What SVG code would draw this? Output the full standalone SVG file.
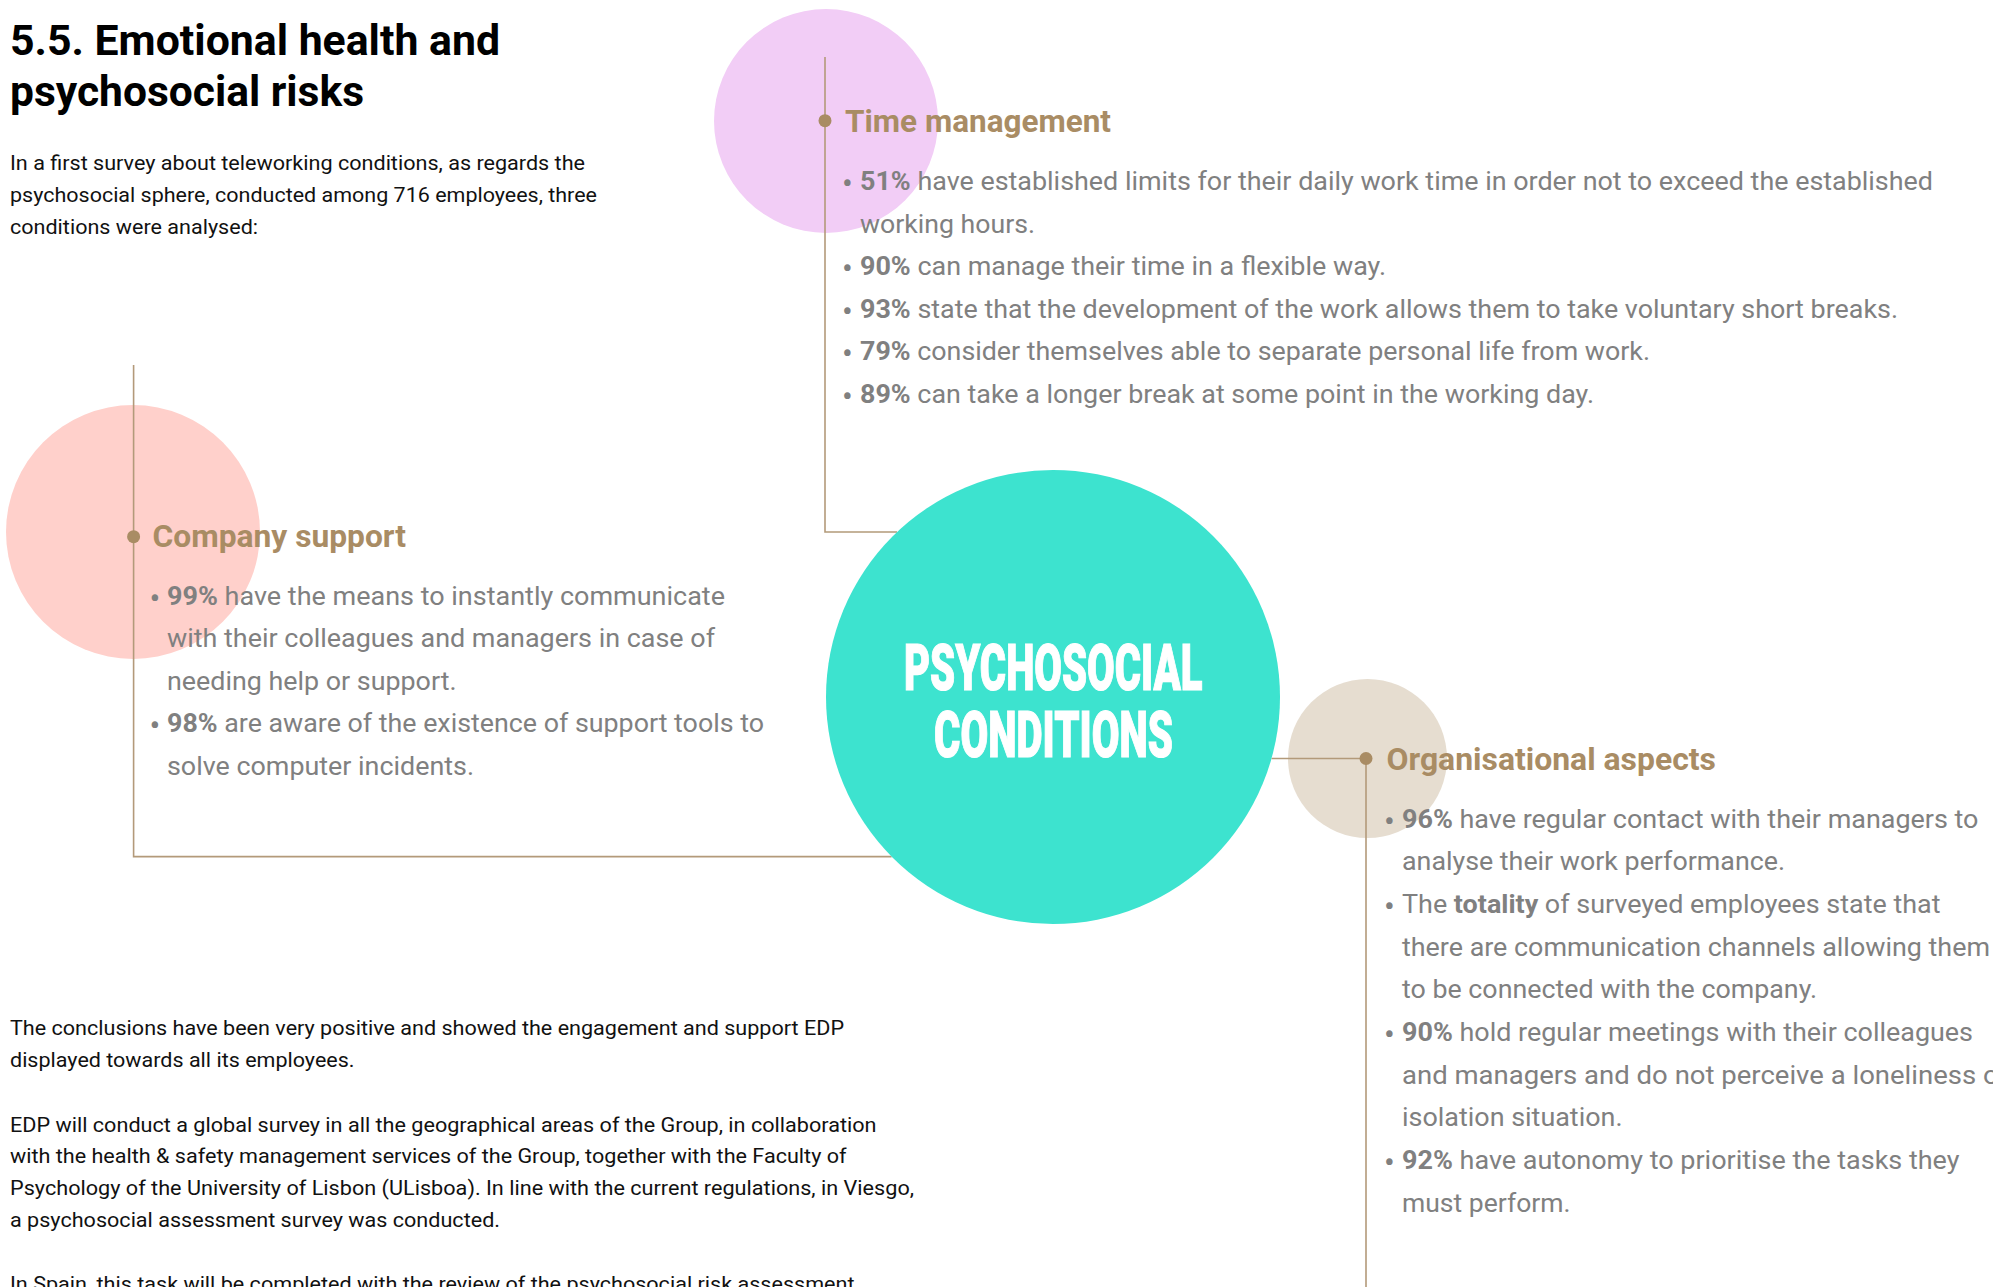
<svg xmlns="http://www.w3.org/2000/svg" width="1993" height="1287" viewBox="0 0 1993 1287">
<style>
text{font-family:Roboto,"Liberation Sans",sans-serif}
.title{font-size:42.5px;font-weight:700;fill:#000}
.body{font-size:21px;font-weight:400;fill:#111}
.head{font-size:31px;font-weight:700;fill:#A98C64}
.item{font-size:26px;font-weight:400;fill:#808080}
.item tspan.b{font-weight:700}
.bul{font-size:32px;fill:#808080;text-anchor:middle}
.center{font-size:65px;font-weight:900;fill:#fff;stroke:#fff;stroke-width:1.2}
.conn{fill:none;stroke:#B39A7A;stroke-width:1.6}
.dot{fill:#A98C64}
</style>
<rect width="1993" height="1287" fill="#fff"/>

<g id="intro">
<text class="title" x="10" y="55" textLength="490" lengthAdjust="spacingAndGlyphs">5.5. Emotional health and</text>
<text class="title" x="10" y="106" textLength="354" lengthAdjust="spacingAndGlyphs">psychosocial risks</text>
<text class="body" x="10" y="170" textLength="575" lengthAdjust="spacingAndGlyphs">In a first survey about teleworking conditions, as regards the</text>
<text class="body" x="10" y="202" textLength="587" lengthAdjust="spacingAndGlyphs">psychosocial sphere, conducted among 716 employees, three</text>
<text class="body" x="10" y="234" textLength="248" lengthAdjust="spacingAndGlyphs">conditions were analysed:</text>
</g>

<g id="backdrops">
<circle cx="826" cy="121" r="112" fill="#F2CDF6"/>
<circle cx="133" cy="532" r="127" fill="#FFD0CB"/>
<circle cx="1367.5" cy="758.5" r="79.5" fill="#E6DDD0"/>
</g>

<g id="connectors">
<path class="conn" d="M825,57 V532 H897"/>
<path class="conn" d="M133.6,365 V856.6 H891.6"/>
<path class="conn" d="M1271.5,758.5 H1366 V1290"/>
</g>

<g id="center-node">
<circle cx="1053" cy="697" r="227" fill="#3DE3CF"/>
<text class="center" x="904" y="690" textLength="298.6" lengthAdjust="spacingAndGlyphs">PSYCHOSOCIAL</text>
<text class="center" x="934" y="756.7" textLength="239" lengthAdjust="spacingAndGlyphs">CONDITIONS</text>
</g>

<g id="time-management">
<circle class="dot" cx="825" cy="120.7" r="6.5"/>
<text class="head" x="845" y="131.5" textLength="266" lengthAdjust="spacingAndGlyphs">Time management</text>
<text class="bul" x="847.5" y="194">•</text>
<text class="item" x="860" y="190" textLength="1073" lengthAdjust="spacingAndGlyphs"><tspan class="b">51%</tspan> have established limits for their daily work time in order not to exceed the established</text>
<text class="item" x="860" y="232.5" textLength="175" lengthAdjust="spacingAndGlyphs">working hours.</text>
<text class="bul" x="847.5" y="279">•</text>
<text class="item" x="860" y="275" textLength="526" lengthAdjust="spacingAndGlyphs"><tspan class="b">90%</tspan> can manage their time in a flexible way.</text>
<text class="bul" x="847.5" y="321.5">•</text>
<text class="item" x="860" y="317.5" textLength="1038" lengthAdjust="spacingAndGlyphs"><tspan class="b">93%</tspan> state that the development of the work allows them to take voluntary short breaks.</text>
<text class="bul" x="847.5" y="364">•</text>
<text class="item" x="860" y="360" textLength="790" lengthAdjust="spacingAndGlyphs"><tspan class="b">79%</tspan> consider themselves able to separate personal life from work.</text>
<text class="bul" x="847.5" y="406.5">•</text>
<text class="item" x="860" y="402.5" textLength="734" lengthAdjust="spacingAndGlyphs"><tspan class="b">89%</tspan> can take a longer break at some point in the working day.</text>
</g>

<g id="company-support">
<circle class="dot" cx="133.6" cy="536.7" r="6.5"/>
<text class="head" x="152.5" y="547.3" textLength="253.5" lengthAdjust="spacingAndGlyphs">Company support</text>
<text class="bul" x="155" y="608.5">•</text>
<text class="item" x="167" y="604.5" textLength="558" lengthAdjust="spacingAndGlyphs"><tspan class="b">99%</tspan> have the means to instantly communicate</text>
<text class="item" x="167" y="647" textLength="548" lengthAdjust="spacingAndGlyphs">with their colleagues and managers in case of</text>
<text class="item" x="167" y="689.5" textLength="289.5" lengthAdjust="spacingAndGlyphs">needing help or support.</text>
<text class="bul" x="155" y="736">•</text>
<text class="item" x="167" y="732" textLength="597" lengthAdjust="spacingAndGlyphs"><tspan class="b">98%</tspan> are aware of the existence of support tools to</text>
<text class="item" x="167" y="774.5" textLength="307" lengthAdjust="spacingAndGlyphs">solve computer incidents.</text>
</g>

<g id="organisational-aspects">
<circle class="dot" cx="1366" cy="758.5" r="6.5"/>
<text class="head" x="1386.5" y="769.5" textLength="329.5" lengthAdjust="spacingAndGlyphs">Organisational aspects</text>
<text class="bul" x="1389.5" y="831.5">•</text>
<text class="item" x="1402" y="827.5" textLength="576.5" lengthAdjust="spacingAndGlyphs"><tspan class="b">96%</tspan> have regular contact with their managers to</text>
<text class="item" x="1402" y="870.2" textLength="383" lengthAdjust="spacingAndGlyphs">analyse their work performance.</text>
<text class="bul" x="1389.5" y="916.9">•</text>
<text class="item" x="1402" y="912.9" textLength="538.5" lengthAdjust="spacingAndGlyphs">The <tspan class="b">totality</tspan> of surveyed employees state that</text>
<text class="item" x="1402" y="955.6" textLength="588" lengthAdjust="spacingAndGlyphs">there are communication channels allowing them</text>
<text class="item" x="1402" y="998.3" textLength="415" lengthAdjust="spacingAndGlyphs">to be connected with the company.</text>
<text class="bul" x="1389.5" y="1045">•</text>
<text class="item" x="1402" y="1041" textLength="571" lengthAdjust="spacingAndGlyphs"><tspan class="b">90%</tspan> hold regular meetings with their colleagues</text>
<text class="item" x="1402" y="1083.7" textLength="606" lengthAdjust="spacingAndGlyphs">and managers and do not perceive a loneliness or</text>
<text class="item" x="1402" y="1126.4" textLength="220.5" lengthAdjust="spacingAndGlyphs">isolation situation.</text>
<text class="bul" x="1389.5" y="1173.1">•</text>
<text class="item" x="1402" y="1169.1" textLength="557.5" lengthAdjust="spacingAndGlyphs"><tspan class="b">92%</tspan> have autonomy to prioritise the tasks they</text>
<text class="item" x="1402" y="1211.8" textLength="168.5" lengthAdjust="spacingAndGlyphs">must perform.</text>
</g>

<g id="conclusions">
<text class="body" x="10" y="1035" textLength="834" lengthAdjust="spacingAndGlyphs">The conclusions have been very positive and showed the engagement and support EDP</text>
<text class="body" x="10" y="1067" textLength="344.5" lengthAdjust="spacingAndGlyphs">displayed towards all its employees.</text>
<text class="body" x="10" y="1131.5" textLength="866.5" lengthAdjust="spacingAndGlyphs">EDP will conduct a global survey in all the geographical areas of the Group, in collaboration</text>
<text class="body" x="10" y="1163.3" textLength="836.5" lengthAdjust="spacingAndGlyphs">with the health &amp; safety management services of the Group, together with the Faculty of</text>
<text class="body" x="10" y="1195" textLength="904" lengthAdjust="spacingAndGlyphs">Psychology of the University of Lisbon (ULisboa). In line with the current regulations, in Viesgo,</text>
<text class="body" x="10" y="1227" textLength="490" lengthAdjust="spacingAndGlyphs">a psychosocial assessment survey was conducted.</text>
<text class="body" x="10" y="1291" textLength="844.5" lengthAdjust="spacingAndGlyphs">In Spain, this task will be completed with the review of the psychosocial risk assessment</text>
</g>
</svg>
